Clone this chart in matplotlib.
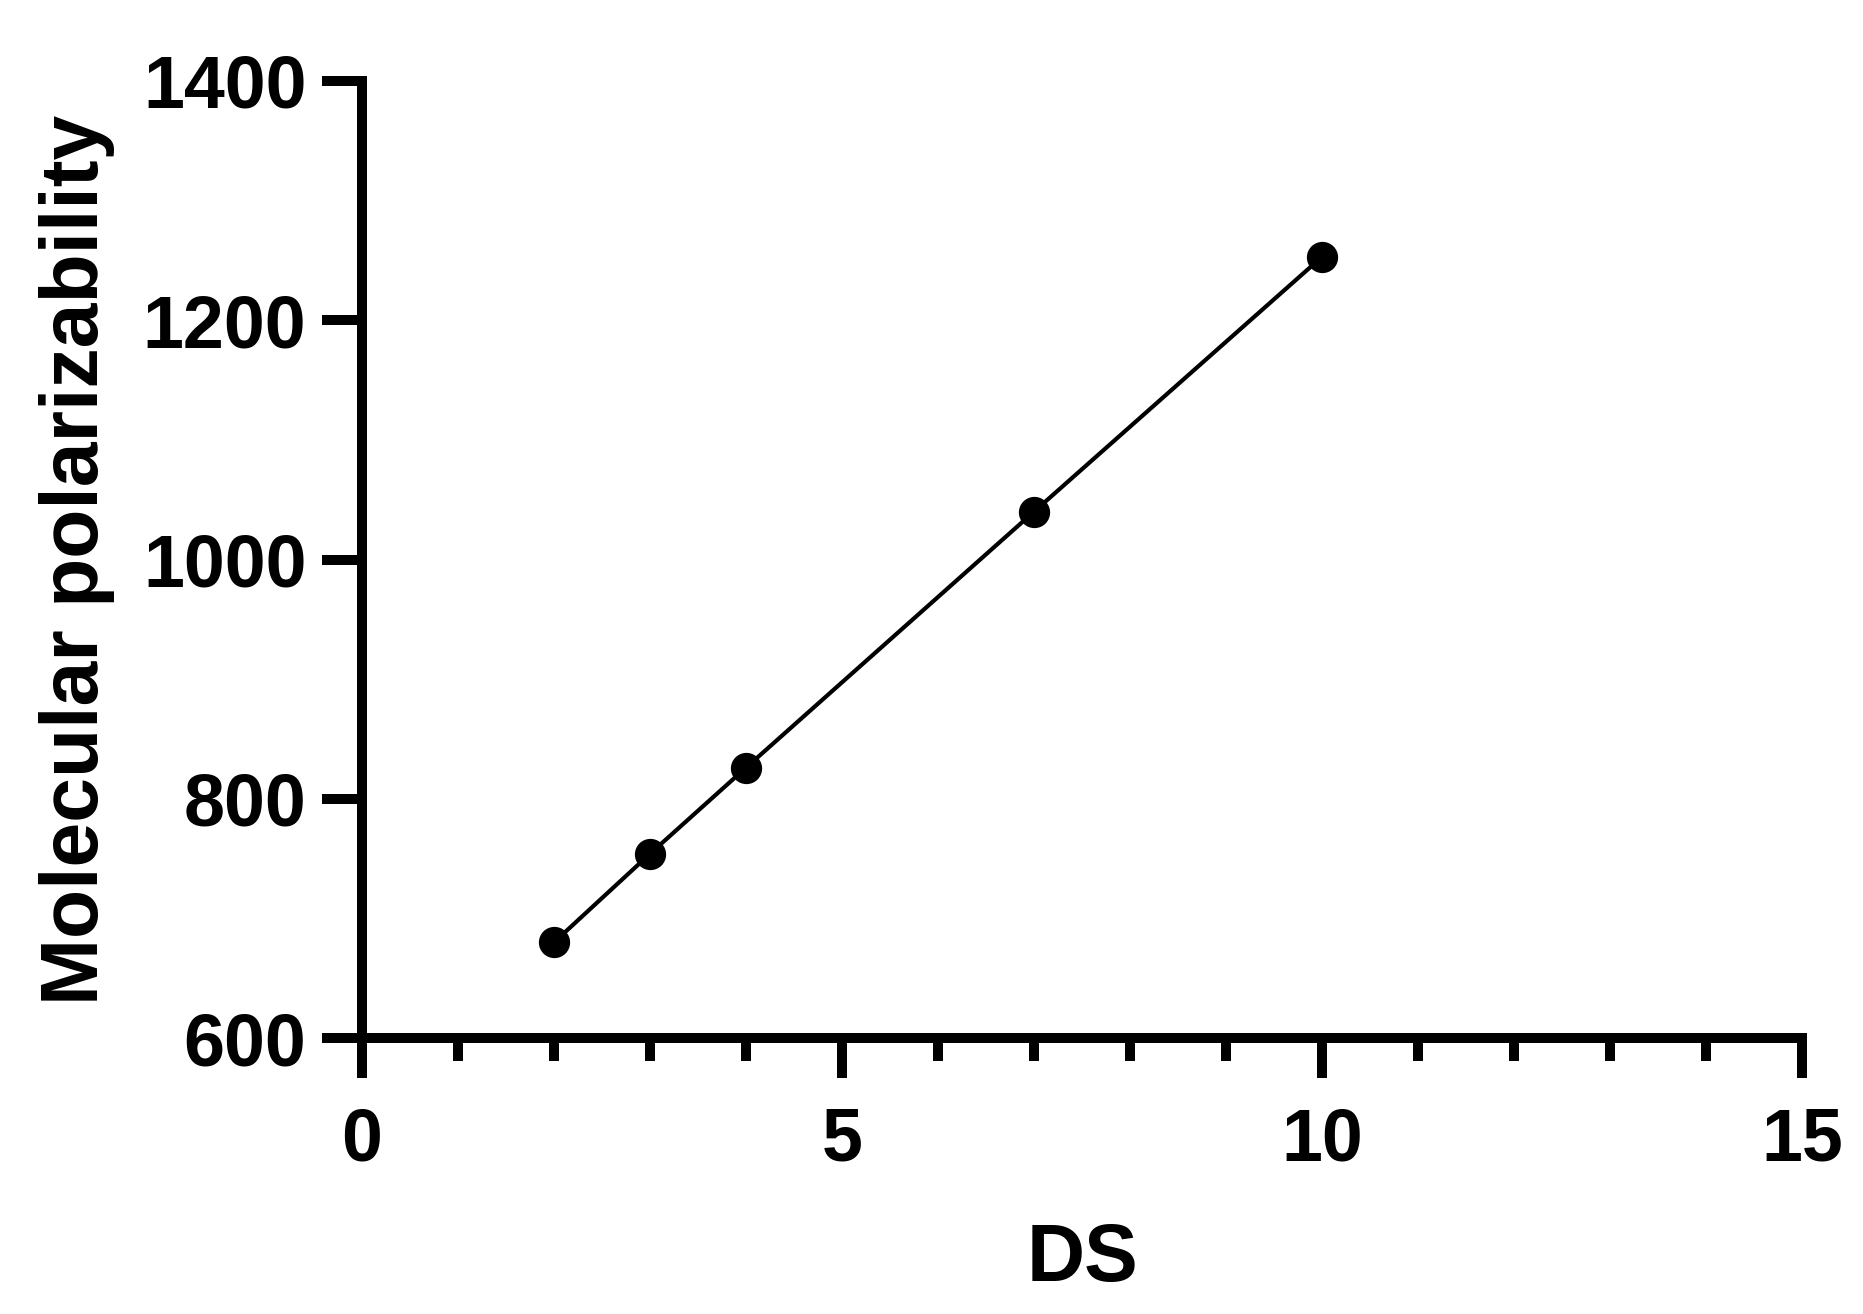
import matplotlib
matplotlib.use("Agg")
import matplotlib.pyplot as plt
from matplotlib.ticker import MultipleLocator

# values
ds = [2, 3, 4, 7, 10]
polarizability = [680, 754, 826, 1040, 1253]

x_ticks = [0, 5, 10, 15]
y_ticks = [600, 800, 1000, 1200, 1400]

plt.rcParams['font.family'] = ['Liberation Sans', 'DejaVu Sans']
plt.rcParams['font.weight'] = 'bold'

fig = plt.figure(figsize=(18.63, 13.14), dpi=100)
ax = fig.add_axes([0.1943, 0.2100, 0.7730, 0.7284])

ax.plot(ds, polarizability, color='black', linewidth=3,
        marker='o', markersize=21.5, clip_on=False, zorder=3)

ax.set_xlim(0, 15)
ax.set_ylim(600, 1400)
ax.set_xticks(x_ticks)
ax.set_yticks(y_ticks)
ax.xaxis.set_minor_locator(MultipleLocator(1))

for side in ['top', 'right']:
    ax.spines[side].set_visible(False)
for side in ['left', 'bottom']:
    ax.spines[side].set_linewidth(7.2)

ax.tick_params(axis='both', which='major', length=29, width=7.2, labelsize=53)
ax.tick_params(axis='x', which='minor', length=16.5, width=7.2)
ax.tick_params(axis='x', which='major', pad=20)
ax.tick_params(axis='y', which='major', pad=11)
for lab in ax.get_xticklabels() + ax.get_yticklabels():
    lab.set_fontweight('bold')

ax.set_xlabel('DS', fontsize=58, fontweight='bold', labelpad=34)
ax.set_ylabel('Molecular polarizability', fontsize=58, fontweight='bold', labelpad=20)

fig.savefig('out.png', dpi=100)
